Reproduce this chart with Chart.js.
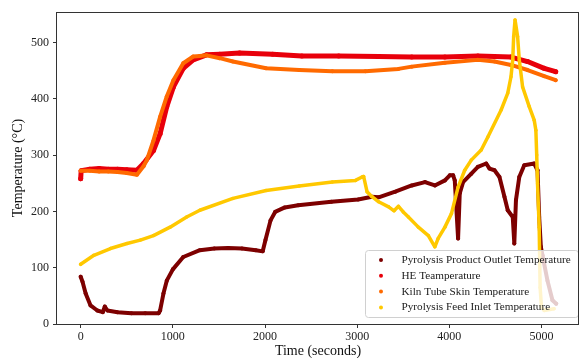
<!DOCTYPE html>
<html>
<head>
<meta charset="utf-8">
<script src="https://cdn.jsdelivr.net/npm/chart.js@4"></script>
<style>
  html, body { margin: 0; padding: 0; background: #ffffff; }
  canvas { display: block; }
</style>
</head>
<body>
<canvas id="tempChart" width="583" height="358"></canvas>
<script>
// ============================================
// Data
// ============================================

const xTicks = [0, 1000, 2000, 3000, 4000, 5000];
const yTicks = [0, 100, 200, 300, 400, 500];

const seriesNames = [
    'Pyrolysis Product Outlet Temperature',
    'HE Teamperature',
    'Kiln Tube Skin Temperature',
    'Pyrolysis Feed Inlet Temperature'
];

const outletTime = [0, 20, 54, 107, 180, 240, 262, 290, 400, 550, 700, 845, 862, 898, 934, 1000, 1113, 1293, 1450, 1600,
    1750, 1900, 1975, 2005, 2060, 2110, 2215, 2360, 2720, 3010, 3160, 3233, 3413, 3592, 3736, 3843, 3952, 4005, 4041, 4059,
    4095, 4113, 4149, 4239, 4310, 4400, 4436, 4490, 4544, 4598, 4634, 4688, 4705, 4723, 4759, 4813, 4921, 4957, 4975, 4993,
    5011, 5065, 5119, 5160];
const outletTemp = [84, 75, 54, 33, 24, 21, 31, 24, 21, 19, 19, 19, 24, 54, 77, 97, 119, 131, 134, 135,
    134, 131, 129, 149, 184, 199, 207, 211, 217, 221, 226, 225, 235, 246, 252, 246, 255, 264, 264, 255,
    152, 232, 252, 267, 279, 285, 276, 273, 261, 226, 202, 190, 143, 220, 261, 282, 285, 273, 190, 137,
    122, 77, 42, 36];

const heTime = [0, 5, 100, 200, 300, 400, 500, 610, 682, 790, 862, 934, 1006, 1113, 1221, 1365, 1509, 1724, 2083, 2400,
    2800, 3233, 3592, 3952, 4310, 4669, 4849, 5029, 5154];
const heTemp = [258, 272, 275, 276, 275, 275, 274, 273, 285, 308, 338, 386, 421, 454, 469, 478, 479, 481, 479, 476,
    476, 475, 474, 474, 476, 474, 466, 454, 448];

const kilnTime = [0, 100, 200, 300, 400, 500, 610, 682, 718, 790, 862, 934, 1006, 1113, 1221, 1293, 1365, 1509, 1652, 2012,
    2371, 2730, 3089, 3448, 3592, 3952, 4310, 4490, 4669, 4849, 5029, 5154];
const kilnTemp = [272, 272, 271, 271, 270, 268, 265, 280, 291, 326, 368, 404, 433, 463, 475, 476, 477, 472, 466, 454,
    451, 449, 449, 453, 457, 464, 469, 466, 460, 451, 440, 433];

const feedTime = [0, 143, 323, 503, 647, 790, 970, 1150, 1293, 1652, 2012, 2371, 2730, 2981, 3053, 3070, 3107, 3161, 3233, 3341,
    3400, 3448, 3500, 3556, 3664, 3772, 3843, 3879, 3952, 4023, 4095, 4167, 4238, 4346, 4418, 4562, 4634, 4669, 4688, 4698,
    4713, 4741, 4759, 4795, 4867, 4921, 4939, 4948, 4957, 4975, 4985, 5000, 5029, 5136];
const feedTemp = [106, 122, 134, 143, 149, 157, 172, 190, 202, 223, 237, 245, 252, 255, 261, 262, 235, 226, 217, 208,
    201, 209, 199, 190, 172, 157, 137, 152, 172, 196, 243, 273, 291, 309, 332, 380, 410, 439, 469, 510,
    540, 510, 469, 421, 386, 362, 344, 300, 249, 172, 65, 30, 24, 27];

const seriesColors = ['#7d0000', '#e8000b', '#ff6a00', '#ffc800'];

function toPoints(times, temps) {
    return times.map((t, i) => ({ x: t, y: temps[i] }));
}

// ============================================
// Plugins: full frame + matplotlib-like legend
// ============================================

const framePlugin = {
    id: 'frame',
    afterDraw(chart) {
        const { ctx, chartArea: a } = chart;
        ctx.save();
        ctx.strokeStyle = '#333333';
        ctx.lineWidth = 1;
        ctx.strokeRect(Math.round(a.left) - 0.5, Math.round(a.top) + 0.5,
            Math.round(a.right - a.left), Math.round(a.bottom - a.top));
        ctx.restore();
    }
};

const legendBoxPlugin = {
    id: 'legendBox',
    afterDatasetsDraw(chart) {
        const ctx = chart.ctx;
        const x0 = 365, y0 = 250, w = 213, h = 67, r = 3;
        ctx.save();
        ctx.beginPath();
        ctx.roundRect(x0 + 0.5, y0 + 0.5, w, h, r);
        ctx.fillStyle = 'rgba(255, 255, 255, 0.8)';
        ctx.fill();
        ctx.strokeStyle = '#d0d0d0';
        ctx.lineWidth = 1;
        ctx.stroke();

        ctx.font = '11.2px "Liberation Serif", "Times New Roman", serif';
        ctx.textBaseline = 'middle';
        ctx.textAlign = 'left';
        seriesNames.forEach((name, i) => {
            const cy = 260 + i * 15.8;
            ctx.beginPath();
            ctx.arc(381, cy, 2, 0, Math.PI * 2);
            ctx.fillStyle = seriesColors[i];
            ctx.fill();
            ctx.fillStyle = '#1a1a1a';
            ctx.fillText(name, 401.5, cy);
        });
        ctx.restore();
    }
};

// ============================================
// Chart
// ============================================

function makeDataset(label, times, temps, color, width, order) {
    return {
        label: label,
        data: toPoints(times, temps),
        showLine: true,
        borderColor: color,
        backgroundColor: color,
        borderWidth: width,
        borderJoinStyle: 'round',
        borderCapStyle: 'round',
        pointRadius: width / 2,
        pointBorderWidth: 0,
        tension: 0,
        order: order
    };
}

const tickFont = { family: "'Liberation Serif', 'Times New Roman', serif", size: 12 };
const titleFont = { family: "'Liberation Serif', 'Times New Roman', serif", size: 14, lineHeight: 1 };

new Chart(document.getElementById('tempChart'), {
    type: 'scatter',
    data: {
        datasets: [
            makeDataset(seriesNames[0], outletTime, outletTemp, seriesColors[0], 4, 4),
            makeDataset(seriesNames[1], heTime, heTemp, seriesColors[1], 5, 3),
            makeDataset(seriesNames[2], kilnTime, kilnTemp, seriesColors[2], 4, 2),
            makeDataset(seriesNames[3], feedTime, feedTemp, seriesColors[3], 3.5, 1)
        ]
    },
    options: {
        responsive: false,
        animation: false,
        layout: { padding: { left: 0, right: 1, top: 12, bottom: 0 } },
        plugins: {
            legend: { display: false },
            tooltip: { enabled: false }
        },
        scales: {
            x: {
                type: 'linear',
                min: -257,
                max: 5407,
                afterBuildTicks: scale => { scale.ticks = xTicks.map(v => ({ value: v })); },
                afterFit: scale => { scale.height = 34; },
                grid: { drawOnChartArea: false, drawTicks: true, tickLength: 4, color: '#333333' },
                border: { display: false },
                ticks: { color: '#222222', font: tickFont, padding: 2, maxRotation: 0, callback: v => String(v) },
                title: { display: true, text: 'Time (seconds)', color: '#111111', font: titleFont, padding: 0 }
            },
            y: {
                type: 'linear',
                min: 0,
                max: 554,
                afterBuildTicks: scale => { scale.ticks = yTicks.map(v => ({ value: v })); },
                afterFit: scale => { scale.width = 57; },
                grid: { drawOnChartArea: false, drawTicks: true, tickLength: 4, color: '#333333' },
                border: { display: false },
                ticks: { color: '#222222', font: tickFont, padding: 4, callback: v => String(v) },
                title: { display: true, text: 'Temperature (°C)', color: '#111111', font: titleFont, padding: { top: 11, bottom: 0 } }
            }
        }
    },
    plugins: [framePlugin, legendBoxPlugin]
});
</script>
</body>
</html>
